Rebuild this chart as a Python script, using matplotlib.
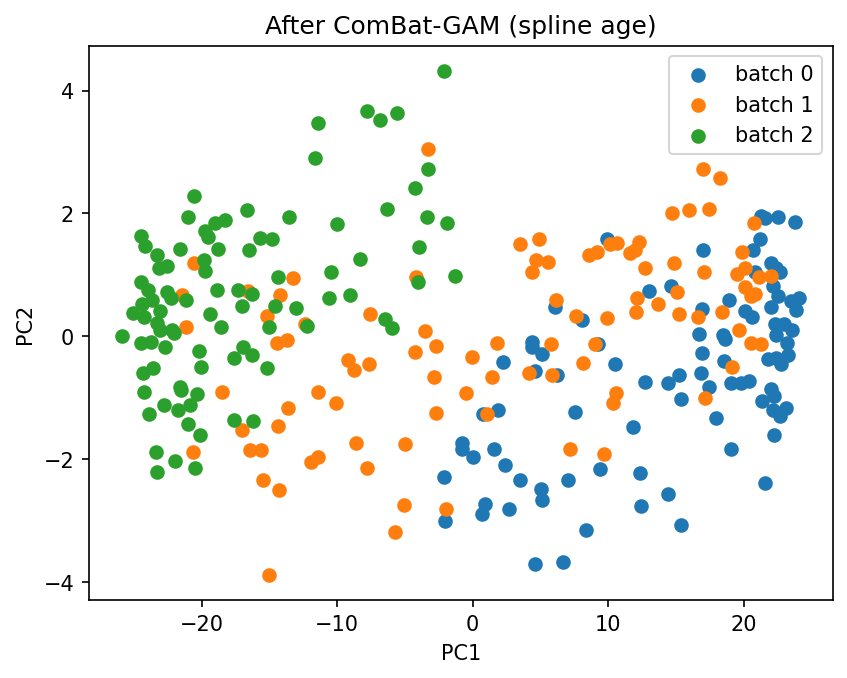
import matplotlib
matplotlib.use("Agg")
import matplotlib.pyplot as plt

# PC coordinates, one pair of lists per batch
batch0_pc1 = [9.92, 21.25, 21.54, 22.52, 23.80, 21.17, 20.68, 16.99, 22.03, 22.4, 22.65, 20.8,
              22.15, 22.52, 13.0, 14.61, 16.92, 18.91, 20.07, 20.6, 21.98, 23.51, 24.07, 23.88,
              22.28, 23.01, 23.58, 22.4, 18.47, 18.64, 16.70, 16.92, 23.18, 23.26, 21.83, 22.4,
              22.77, 18.52, 15.20, 12.7, 14.42, 16.87, 17.44, 19.03, 19.82, 20.38, 22.03, 22.23,
              21.37, 15.40, 22.15, 23.14, 22.65, 17.93, 22.2, 19.06, 14.39, 21.56, 15.35, 6.06,
              8.08, 4.39, 4.35, 5.08, 2.26, 9.26, 10.49, 4.59, 6.23, 1.89, 0.78, 7.54, 11.84,
              -0.75, -0.75, 0.05, 1.57, 2.40, 3.49, 9.38, 12.35, 7.05, 5.03, 5.13, 0.91, 0.69,
              2.70, 12.40, 8.35, 4.61, 6.68, -2.09, -2.02]
batch0_pc2 = [1.58, 1.96, 1.93, 1.95, 1.86, 1.58, 1.41, 1.40, 1.20, 1.12, 1.05, 1.04,
              0.82, 0.655, 0.74, 0.82, 0.44, 0.60, 0.41, 0.32, 0.48, 0.575, 0.62, 0.43,
              0.195, 0.195, 0.11, 0.016, 0.03, -0.05, 0.04, -0.27, -0.10, -0.31, -0.37, -0.35,
              -0.455, -0.40, -0.62, -0.74, -0.76, -0.59, -0.82, -0.76, -0.76, -0.73, -0.85, -0.97,
              -1.05, -1.02, -1.20, -1.17, -1.30, -1.33, -1.61, -1.84, -2.57, -2.38, -3.07, 0.48,
              0.265, -0.09, -0.17, -0.28, -0.41, -0.12, -0.455, -0.57, -0.63, -1.20, -1.26, -1.23, -1.47,
              -1.73, -1.84, -1.96, -1.84, -2.10, -2.33, -2.15, -2.23, -2.33, -2.49, -2.66, -2.73, -2.89,
              -2.80, -2.76, -3.15, -3.71, -3.67, -2.28, -3.01]

batch1_pc1 = [-3.27, 16.99, 18.25, 14.71, 15.96, 17.44, 20.75, -20.59, -21.45, -16.58, -14.2,
              -15.16, -14.45, -21.15, -18.47, -14.4, -17.02, -20.66, -16.46, -15.6, -15.5, -14.32,
              -15.06, -13.29, -4.18, -7.55, -12.36, -13.71, -3.52, -2.68, -4.23, -9.17, -8.72,
              -7.62, -2.83, -0.5, -11.38, -10.07, -13.66, -2.68, -8.58, -4.99, -11.38, -11.92,
              -7.77, -1.97, -5.04, -5.73, 3.51, 4.89, 4.66, 5.57, 4.39, 10.17, 10.66, 8.57, 9.18,
              11.59, 11.96, 12.28, 12.75, 12.11, 12.03, 6.16, 7.63, 9.90, 5.77, 1.81, -0.03, 1.42,
              9.01, 8.15, 4.17, 5.82, 10.56, 10.36, 1.03, 7.17, 9.68, 19.85, 14.86, 17.07, 20.07,
              19.53, 21.1, 22.03, 20.07, 20.51, 20.8, 15.08, 13.68, 15.20, 16.62, 18.37, 19.65,
              20.51, 21.3, 19.13, 17.12]
batch1_pc2 = [3.05, 2.73, 2.58, 2.01, 2.05, 2.08, 1.85, 1.19, 0.67, 0.74, 0.67,
              0.33, -0.10, 0.16, -0.91, -1.45, -1.52, -1.88, -1.85, -1.85, -2.34, -2.50,
              -3.88, 0.95, 0.97, 0.37, 0.195, -0.065, 0.08, -0.15, -0.25, -0.39, -0.54,
              -0.455, -0.66, -0.92, -0.90, -1.09, -1.16, -1.25, -1.73, -1.75, -1.96, -2.04,
              -2.14, -2.80, -2.75, -3.19, 1.50, 1.59, 1.25, 1.21, 1.04, 1.50, 1.52, 1.32, 1.38,
              1.36, 1.41, 1.53, 1.12, 0.62, 0.40, 0.585, 0.34, 0.30, -0.12, -0.10, -0.33, -0.66,
              -0.12, -0.44, -0.59, -0.62, -0.92, -1.09, -1.27, -1.84, -1.91, 1.37, 1.20, 1.05, 1.12,
              1.01, 0.965, 0.98, 0.81, 0.655, 0.69, 0.73, 0.52, 0.36, 0.32, 0.40, 0.10,
              -0.10, -0.12, -0.50, -1.0]

batch2_pc1 = [-20.54, -21.03, -19.73, -19.5, -18.99, -18.25, -16.63, -24.44, -15.67, -14.79,
              -2.09, -11.38, -7.77, -6.81, -5.56, -11.6, -3.27, -4.23, -13.54, -9.98, -6.29, -3.35,
              -1.87, -24.2, -23.32, -21.57, -18.82, -16.53, -19.85, -19.78, -23.12, -22.55, -24.44,
              -23.98, -22.55, -22.26, -21.15, -18.87, -17.35, -16.31, -17.02, -14.37, -14.57, -15.06,
              -24.39, -23.65, -23.04, -25.06, -24.27, -23.29, -23.09, -22.18, -22.06, -25.84, -24.44,
              -23.7, -22.73, -19.36, -18.55, -20.22, -20.02, -17.64, -16.98, -16.29, -15.18, -24.35,
              -23.61, -24.27, -21.57, -21.52, -20.32, -22.8, -21.77, -20.83, -23.9, -21.03, -17.64,
              -16.24, -20.15, -23.39, -21.99, -20.52, -23.32, -3.93, -8.28, -10.49, -4.0, -1.28,
              -10.57, -9.02, -13.07, -12.23, -6.46, -5.97]
batch2_pc2 = [2.29, 1.95, 1.71, 1.62, 1.85, 1.90, 2.06, 1.63, 1.60, 1.58,
              4.32, 3.47, 3.67, 3.52, 3.64, 2.91, 2.73, 2.42, 1.95, 1.83, 2.08, 1.95,
              1.85, 1.47, 1.33, 1.43, 1.43, 1.41, 1.25, 1.06, 1.12, 1.15, 0.89,
              0.76, 0.72, 0.63, 0.60, 0.76, 0.76, 0.69, 0.50, 0.97, 0.50, 0.16,
              0.52, 0.59, 0.42, 0.385, 0.32, 0.22, 0.11, 0.11, 0.06, 0.0, -0.11,
              -0.09, -0.18, 0.37, 0.16, -0.23, -0.49, -0.35, -0.18, -0.31, -0.51, -0.60,
              -0.52, -0.90, -0.82, -0.88, -0.93, -1.11, -1.19, -1.12, -1.27, -1.42, -1.36,
              -1.38, -1.60, -1.88, -2.02, -2.14, -2.20, 1.46, 1.26, 1.05, 0.89, 0.99,
              0.63, 0.68, 0.455, 0.17, 0.28, 0.14]

plt.figure(figsize=(6.4, 4.8))
plt.scatter(batch0_pc1, batch0_pc2, label="batch 0")
plt.scatter(batch1_pc1, batch1_pc2, label="batch 1")
plt.scatter(batch2_pc1, batch2_pc2, label="batch 2")
plt.title("After ComBat-GAM (spline age)")
plt.xlabel("PC1")
plt.ylabel("PC2")
plt.legend()
plt.savefig("out.png", dpi=150, bbox_inches="tight")
